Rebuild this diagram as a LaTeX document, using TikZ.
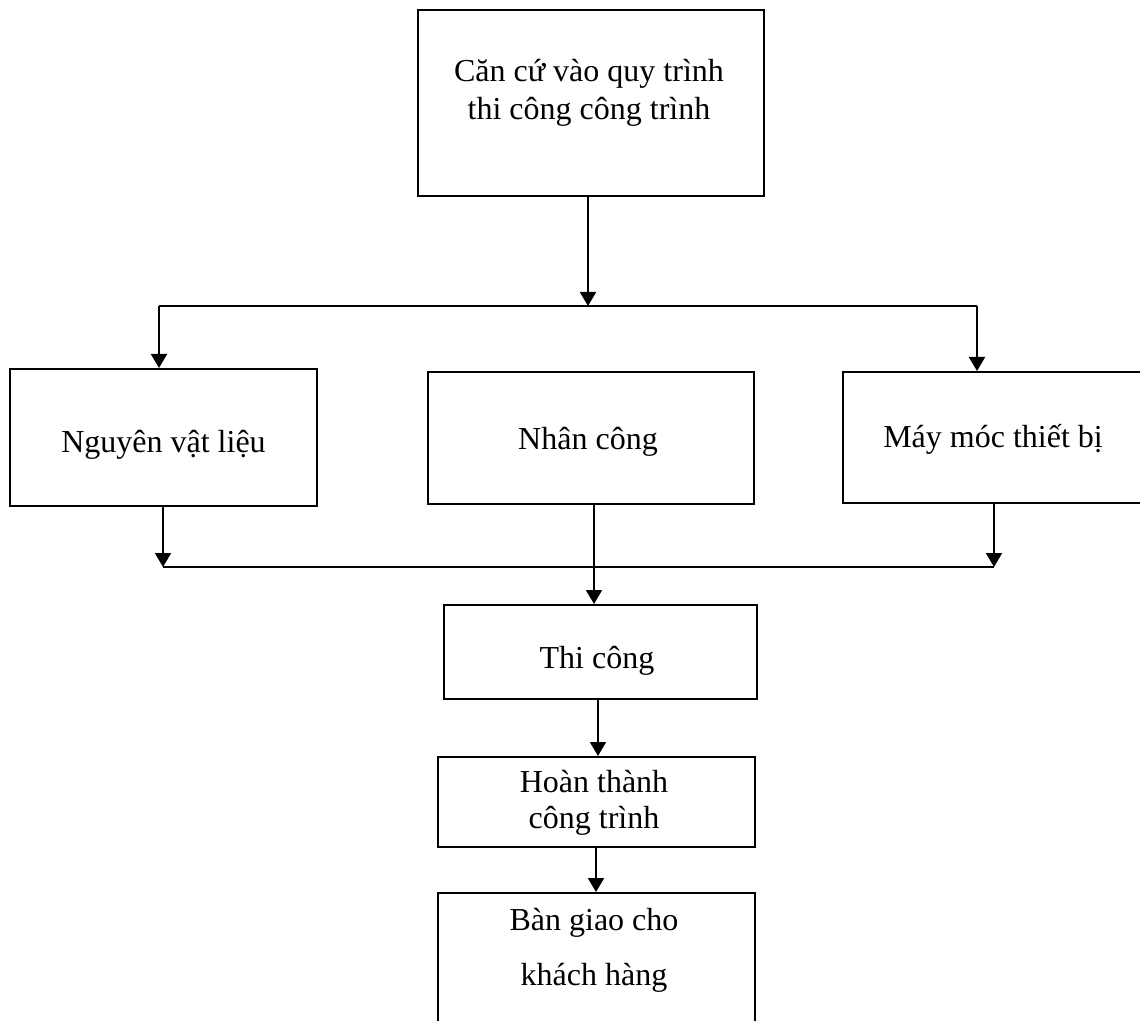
\documentclass[tikz,border=0pt]{standalone}
\usepackage{fontspec}
\setmainfont{Liberation Serif}
\usepackage{tikz}
\usetikzlibrary{positioning, arrows.meta}
\tikzset{
	x=0.5pt, y=-0.5pt, % one unit is one pixel of the sketch
	>={Triangle[length=7pt,width=8pt]}, % filled triangle heads
	block/.style={draw, line width=1pt, inner sep=0pt}, % the frame of each step
	words/.style={font=\fontsize{16}{19}\selectfont, align=center, anchor=base, inner sep=0pt}, % the text in a step (base = last line)
}

\begin{document}
\begin{tikzpicture}[line width=1pt]
	\useasboundingbox (0,0) rectangle (1140,1021);
	\clip (0,0) rectangle (1140,1021);
	% frames
	\node[block, minimum width=173pt, minimum height=93pt] at (591,103) (plan) {};
	\node[block, minimum width=153.5pt, minimum height=68.5pt] at (163.5,437.5) (nvl) {};
	\node[block, minimum width=163pt, minimum height=66pt] at (591,438) (nc) {};
	\node[block, minimum width=150pt, minimum height=65.5pt] at (993,437.5) (mm) {};
	\node[block, minimum width=156.5pt, minimum height=47pt] at (600.5,652) (tc) {};
	\node[block, minimum width=158.5pt, minimum height=45pt] at (596.5,802) (ht) {};
	\node[block, minimum width=158.5pt, minimum height=73.5pt] at (596.5,966.5) (bg) {};
	% texts
	\node[words] at (589,120) (plantxt) {Căn cứ vào quy trình\\thi công công trình};
	\node[words] at (163.5,452) (nvltxt) {Nguyên vật liệu};
	\node[words] at (588,450) (nctxt) {Nhân công};
	\node[words] at (993,447) (mmtxt) {Máy móc thiết bị};
	\node[words] at (597,668) (tctxt) {Thi công};
	\node[words, font=\fontsize{16}{18}\selectfont] at (594,828) (httxt) {Hoàn thành\\công trình};
	\node[words, font=\fontsize{16}{27.5}\selectfont] at (594,985) (bgtxt) {Bàn giao cho\\khách hàng};
	% joints
	\coordinate (top) at (588,306);
	\coordinate (tl) at (159,306);
	\coordinate (tr) at (977,306);
	\coordinate (bl) at (163,567);
	\coordinate (br) at (994,567);
	\coordinate (mid) at (594,567);
	% connectors
	\draw[->] (plan.south -| top) -- (top);
	\draw (tl) -- (tr);
	\draw[->] (tl) -- (tl |- nvl.north);
	\draw[->] (tr) -- (tr |- mm.north);
	\draw[->] (nvl.south -| bl) -- (bl);
	\draw[->] (mm.south -| br) -- (br);
	\draw (bl) -- (br);
	\draw[->] (nc.south -| mid) -- (mid |- tc.north);
	\draw[->] (tc.south -| 598,0) -- (ht.north -| 598,0);
	\draw[->] (ht.south -| 596,0) -- (bg.north -| 596,0);
\end{tikzpicture}
\end{document}
